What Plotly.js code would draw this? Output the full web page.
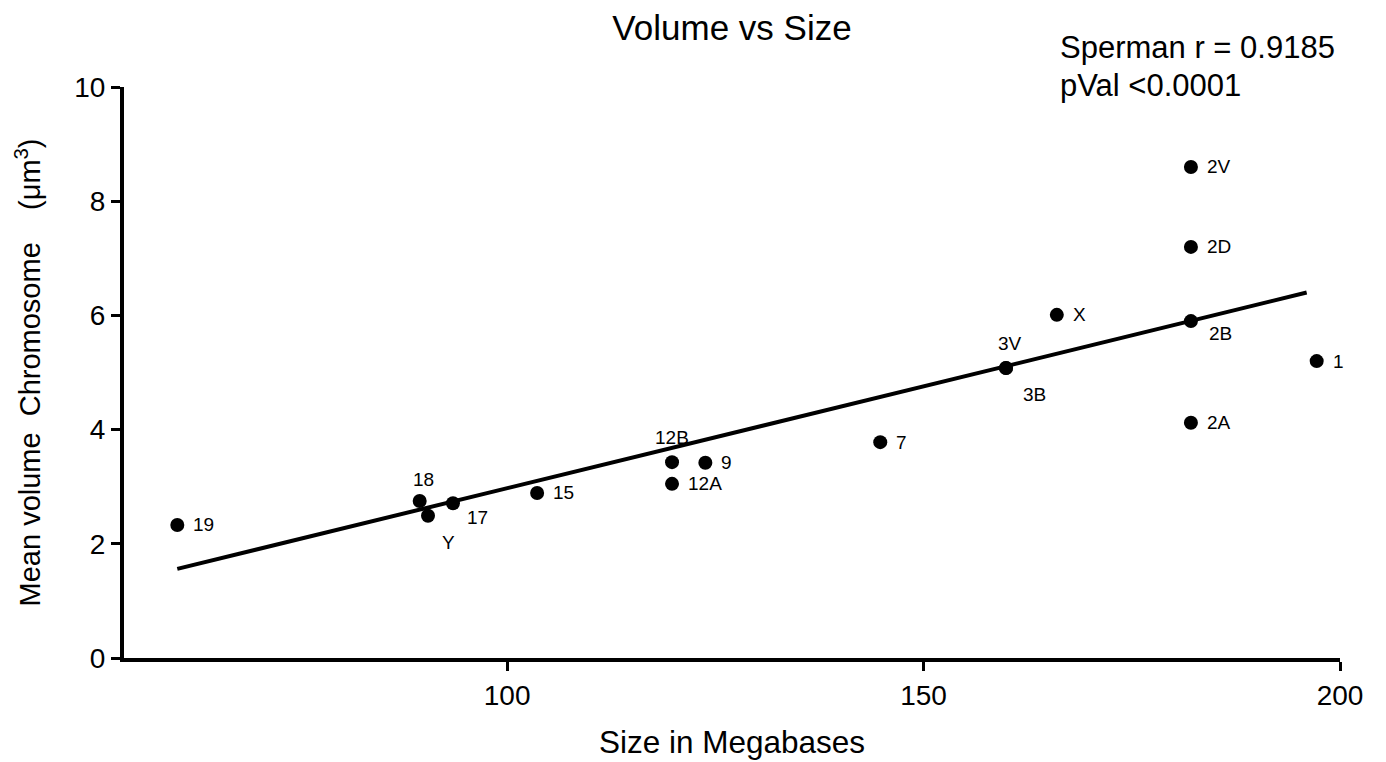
<!DOCTYPE html>
<html>
<head>
<meta charset="utf-8">
<script src="https://cdn.plot.ly/plotly-3.0.1.min.js"></script>
<style>html,body{margin:0;padding:0;background:#fff;}#chart{width:1386px;height:762px;}</style>
</head>
<body>
<div id="chart"></div>
<script>
// ---- data ----
const labels = ['19','18','Y','17','15','12B','12A','9','7','3V','3B','X','2V','2D','2B','2A','1'];
const sizeMb = [60.4, 89.5, 90.5, 93.5, 103.6, 119.8, 119.8, 123.8, 144.8, 159.9, 159.9, 166.0, 182.1, 182.1, 182.1, 182.1, 197.2];
const volume = [2.33, 2.75, 2.49, 2.71, 2.89, 3.43, 3.05, 3.42, 3.78, 5.08, 5.08, 6.01, 8.60, 7.20, 5.90, 4.12, 5.20];
const fitX = [60.4, 196.0];
const fitY = [1.56, 6.40];
const xTicks = [100, 150, 200];
const yTicks = [0, 2, 4, 6, 8, 10];
const statLines = ['Sperman r = 0.9185', 'pVal <0.0001'];

// ---- label placement style (pixel offsets) ----
const labelStyle = {
  'default': {xanchor: 'left', xshift: 14, yshift: 0},
  '18':  {xanchor: 'center', xshift: 4, yshift: 21},
  'Y':   {xanchor: 'center', xshift: 20, yshift: -27},
  '17':  {xanchor: 'left', xshift: 12, yshift: -14},
  '12B': {xanchor: 'center', xshift: 0, yshift: 25},
  '3V':  {xanchor: 'center', xshift: 4, yshift: 24},
  '3B':  {xanchor: 'center', xshift: 28, yshift: -27},
  '2B':  {xanchor: 'left', xshift: 16, yshift: -12}
};

const FONT = '"Liberation Sans", Arial, Helvetica, sans-serif';
const NB = '\u00a0';

const traces = [
  {
    x: fitX, y: fitY, mode: 'lines', type: 'scatter',
    line: {color: '#000', width: 4}, hoverinfo: 'skip', showlegend: false
  },
  {
    x: sizeMb, y: volume, mode: 'markers', type: 'scatter',
    marker: {color: '#000', size: 14}, showlegend: false
  }
];

const annotations = labels.map((lab, i) => {
  const s = labelStyle[lab] || labelStyle['default'];
  return {
    x: sizeMb[i], y: volume[i], xref: 'x', yref: 'y', text: lab, showarrow: false,
    xanchor: s.xanchor, yanchor: 'middle', xshift: s.xshift, yshift: s.yshift,
    font: {family: FONT, size: 19, color: '#000'}
  };
});
statLines.forEach((t, i) => {
  annotations.push({
    x: 0.768, y: i === 0 ? 1.070 : 1.0035, xref: 'paper', yref: 'paper', text: t,
    showarrow: false, xanchor: 'left', yanchor: 'middle',
    font: {family: FONT, size: 31, color: '#000'}
  });
});

const layout = {
  width: 1386, height: 762,
  margin: {l: 124, r: 46, t: 87, b: 104},
  paper_bgcolor: '#fff', plot_bgcolor: '#fff',
  font: {family: FONT, color: '#000'},
  title: {text: 'Volume vs Size', x: 0.5, xref: 'paper', y: 0.963, yref: 'container',
          xanchor: 'center', yanchor: 'middle', font: {family: FONT, size: 35, color: '#000'}},
  xaxis: {
    range: [54, 200], tickvals: xTicks, ticktext: xTicks.map(String),
    showline: true, linecolor: '#000', linewidth: 4, mirror: false,
    ticks: 'outside', ticklen: 9, tickwidth: 3, tickcolor: '#000',
    showgrid: false, zeroline: false,
    tickfont: {family: FONT, size: 28, color: '#000'},
    title: {text: 'Size in Megabases', font: {family: FONT, size: 31.5, color: '#000'}, standoff: 22}
  },
  yaxis: {
    range: [0, 10], tickvals: yTicks, ticktext: yTicks.map(String),
    showline: true, linecolor: '#000', linewidth: 4, mirror: false,
    ticks: 'outside', ticklen: 9, tickwidth: 3, tickcolor: '#000',
    showgrid: false, zeroline: false,
    tickfont: {family: FONT, size: 28, color: '#000'},
    title: {text: 'Mean volume' + NB + NB + 'Chromosome' + NB + NB + NB + NB + '(μm<sup>3</sup>)',
            font: {family: FONT, size: 29, color: '#000'}, standoff: 26}
  },
  annotations: annotations,
  showlegend: false
};

Plotly.newPlot('chart', traces, layout, {displayModeBar: false, staticPlot: true});
</script>
</body>
</html>
